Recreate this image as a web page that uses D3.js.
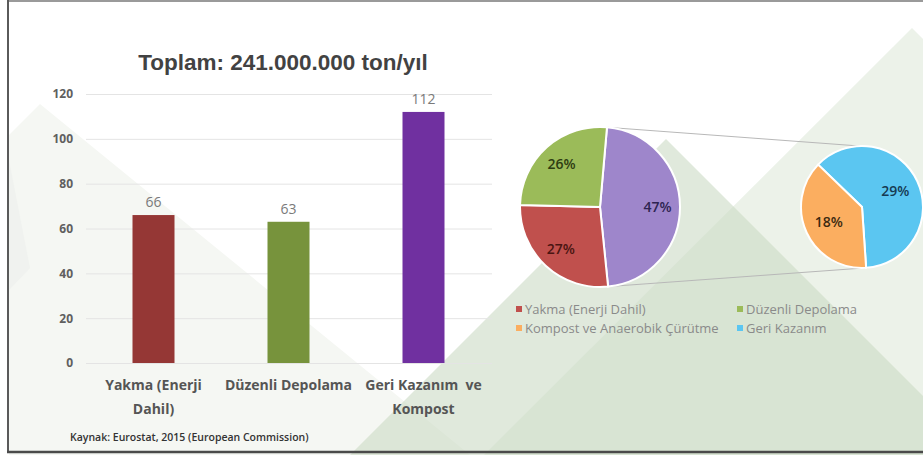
<!DOCTYPE html>
<html>
<head>
<meta charset="utf-8">
<script src="https://cdn.jsdelivr.net/npm/d3@7"></script>
<style>
  html, body { margin: 0; padding: 0; background: #fff; }
  svg { display: block; }
  text { font-family: "Open Sans", "DejaVu Sans", sans-serif; }
</style>
</head>
<body>
<svg id="chart" width="923" height="455"></svg>
<script>
// ---- data ----
const title = "Toplam: 241.000.000 ton/yıl";
const source = "Kaynak: Eurostat, 2015 (European Commission)";

const categories = ["Yakma (Enerji Dahil)", "Düzenli Depolama", "Geri Kazanım ve Kompost"];
const categoryLines = [["Yakma (Enerji", "Dahil)"], ["Düzenli Depolama"], ["Geri Kazanım  ve", "Kompost"]];
const amounts = [66, 63, 112];
const barColors = ["#953735", "#77933c", "#7030a0"];
const yTicks = [0, 20, 40, 60, 80, 100, 120];

const mainPieNames = ["Geri Kazanım ve Kompost", "Yakma (Enerji Dahil)", "Düzenli Depolama"];
const mainPieShares = [47, 27, 26];
const mainPieColors = ["#9e86cb", "#c0504d", "#9bbb59"];
const mainPieTextColors = ["#2e2452", "#4a1512", "#2e3d12"];

const subPieNames = ["Geri Kazanım", "Kompost ve Anaerobik Çürütme"];
const subPieShares = [29, 18];
const subPieColors = ["#5bc6f1", "#fbae60"];
const subPieTextColors = ["#163a52", "#3d2a10"];

const legendNames = ["Yakma (Enerji Dahil)", "Düzenli Depolama", "Kompost ve Anaerobik Çürütme", "Geri Kazanım"];
const legendColors = ["#c0504d", "#9bbb59", "#fbae60", "#5bc6f1"];

// ---- setup ----
const svg = d3.select("#chart");
const W = 923, H = 455;
const deg = Math.PI / 180;

// decorative background panels
const bg = svg.append("g");
bg.append("rect").attr("width", W).attr("height", H).attr("fill", "#fff");
bg.append("polygon")
  .attr("points", [[40, 104], [470, 455], [9, 455], [9, 135]].join(" "))
  .attr("fill", "#f5f7f3");
bg.append("polygon")
  .attr("points", [[9, 160], [30, 268], [9, 290]].join(" "))
  .attr("fill", "#f0f2ef");
bg.append("polygon")
  .attr("points", [[912, 28], [1340, 455], [484, 455]].join(" "))
  .attr("fill", "#dfeadb").attr("opacity", 0.6);
bg.append("polygon")
  .attr("points", [[666, 139], [982, 455], [350, 455]].join(" "))
  .attr("fill", "#cbdac4").attr("opacity", 0.6);

// frame
svg.append("line").attr("x1", 8).attr("x2", W).attr("y1", 1).attr("y2", 1)
  .attr("stroke", "#9a9a9a").attr("stroke-width", 2);
svg.append("line").attr("x1", 8).attr("x2", 8).attr("y1", 0).attr("y2", 453)
  .attr("stroke", "#5a5a5a").attr("stroke-width", 2);
svg.append("line").attr("x1", 7).attr("x2", W).attr("y1", 452).attr("y2", 452)
  .attr("stroke", "#4a4a4a").attr("stroke-width", 2.5);

// ---- bar chart ----
const x = d3.scaleBand().domain(categories).range([86, 491]);
const y = d3.scaleLinear().domain([0, 120]).range([363, 94]);
const barW = 42;

svg.append("text").attr("x", 283).attr("y", 70).attr("text-anchor", "middle")
  .style("font-family", "'Liberation Sans', Arial, sans-serif")
  .style("font-size", "22.5px").style("font-weight", "bold").attr("fill", "#424242")
  .text(title);

const yAxis = svg.append("g").attr("transform", "translate(86,0)")
  .call(d3.axisLeft(y).tickValues(yTicks).tickSize(-406).tickPadding(13));
yAxis.select(".domain").remove();
yAxis.selectAll(".tick line").attr("stroke", "#e4e4e4");
yAxis.selectAll(".tick text")
  .style("font-family", "'Open Sans', sans-serif")
  .style("font-size", "12px").style("font-weight", "bold").attr("fill", "#5f5f5f");

svg.append("g").selectAll("rect").data(categories).join("rect")
  .attr("x", d => x(d) + x.bandwidth() / 2 - barW / 2)
  .attr("y", (d, i) => y(amounts[i]))
  .attr("width", barW)
  .attr("height", (d, i) => y(0) - y(amounts[i]))
  .attr("fill", (d, i) => barColors[i]);

svg.append("g").selectAll("text").data(categories).join("text")
  .attr("x", d => x(d) + x.bandwidth() / 2)
  .attr("y", (d, i) => y(amounts[i]) - 8)
  .attr("text-anchor", "middle")
  .style("font-size", "14px").attr("fill", "#7a7a7a")
  .text((d, i) => amounts[i]);

const xLabels = svg.append("g").selectAll("text").data(categories).join("text")
  .attr("text-anchor", "middle").attr("xml:space", "preserve")
  .style("font-size", "14px").style("font-weight", "bold").attr("fill", "#555");
xLabels.each(function (d, i) {
  const t = d3.select(this);
  categoryLines[i].forEach((line, k) => {
    t.append("tspan").attr("x", x(d) + x.bandwidth() / 2).attr("y", 390 + k * 24)
      .style("white-space", "pre").text(line);
  });
});

svg.append("text").attr("x", 70).attr("y", 441)
  .style("font-size", "10.5px").style("font-weight", "600").attr("fill", "#333")
  .text(source);

// ---- pie of pie ----
const c1 = [600, 207], r1 = 80;
const c2 = [862, 207], r2 = 61;

const pie1 = d3.pie().sort(null).startAngle(5 * deg).endAngle(365 * deg)(mainPieShares);
const pie2 = d3.pie().sort(null).startAngle(-46 * deg).endAngle(314 * deg)(subPieShares);

const arc1 = d3.arc().innerRadius(0).outerRadius(r1);
const arc2 = d3.arc().innerRadius(0).outerRadius(r2);
const lab1 = d3.arc().innerRadius(r1 * 0.72).outerRadius(r1 * 0.72);
const lab2 = d3.arc().innerRadius(r2 * 0.6).outerRadius(r2 * 0.6);

// connector lines from the split slice to the secondary pie
const split = pie1[0];
const p = (c, r, a) => [c[0] + r * Math.sin(a), c[1] - r * Math.cos(a)];
const connectors = [
  [p(c1, r1, split.startAngle), p(c2, r2, -2 * deg)],
  [p(c1, r1, split.endAngle), p(c2, r2, 174 * deg)]
];
svg.append("g").selectAll("line").data(connectors).join("line")
  .attr("x1", d => d[0][0]).attr("y1", d => d[0][1])
  .attr("x2", d => d[1][0]).attr("y2", d => d[1][1])
  .attr("stroke", "#b8b8b8").attr("stroke-width", 1);

const g1 = svg.append("g").attr("transform", `translate(${c1})`);
g1.selectAll("path").data(pie1).join("path")
  .attr("d", arc1).attr("fill", (d, i) => mainPieColors[i])
  .attr("stroke", "#fff").attr("stroke-width", 2);
g1.selectAll("text").data(pie1).join("text")
  .attr("transform", d => `translate(${lab1.centroid(d)})`)
  .attr("text-anchor", "middle").attr("dy", "0.35em")
  .style("font-size", "14px").style("font-weight", "600")
  .attr("fill", (d, i) => mainPieTextColors[i])
  .text(d => d.data + "%");

const g2 = svg.append("g").attr("transform", `translate(${c2})`);
g2.selectAll("path").data(pie2).join("path")
  .attr("d", arc2).attr("fill", (d, i) => subPieColors[i])
  .attr("stroke", "#fff").attr("stroke-width", 2);
g2.selectAll("text").data(pie2).join("text")
  .attr("transform", d => `translate(${lab2.centroid(d)})`)
  .attr("text-anchor", "middle").attr("dy", "0.35em")
  .style("font-size", "14px").style("font-weight", "600")
  .attr("fill", (d, i) => subPieTextColors[i])
  .text(d => d.data + "%");

// legend (two columns, two rows)
const legend = svg.append("g").selectAll("g").data(legendNames).join("g")
  .attr("transform", (d, i) => `translate(${i % 2 ? 737 : 516},${309 + Math.floor(i / 2) * 19})`);
legend.append("rect").attr("x", 0).attr("y", -3).attr("width", 6).attr("height", 6)
  .attr("fill", (d, i) => legendColors[i]);
legend.append("text").attr("x", 9).attr("dy", "0.35em")
  .style("font-size", "13px").attr("fill", "#8a8a8a")
  .text(d => d);
</script>
</body>
</html>
